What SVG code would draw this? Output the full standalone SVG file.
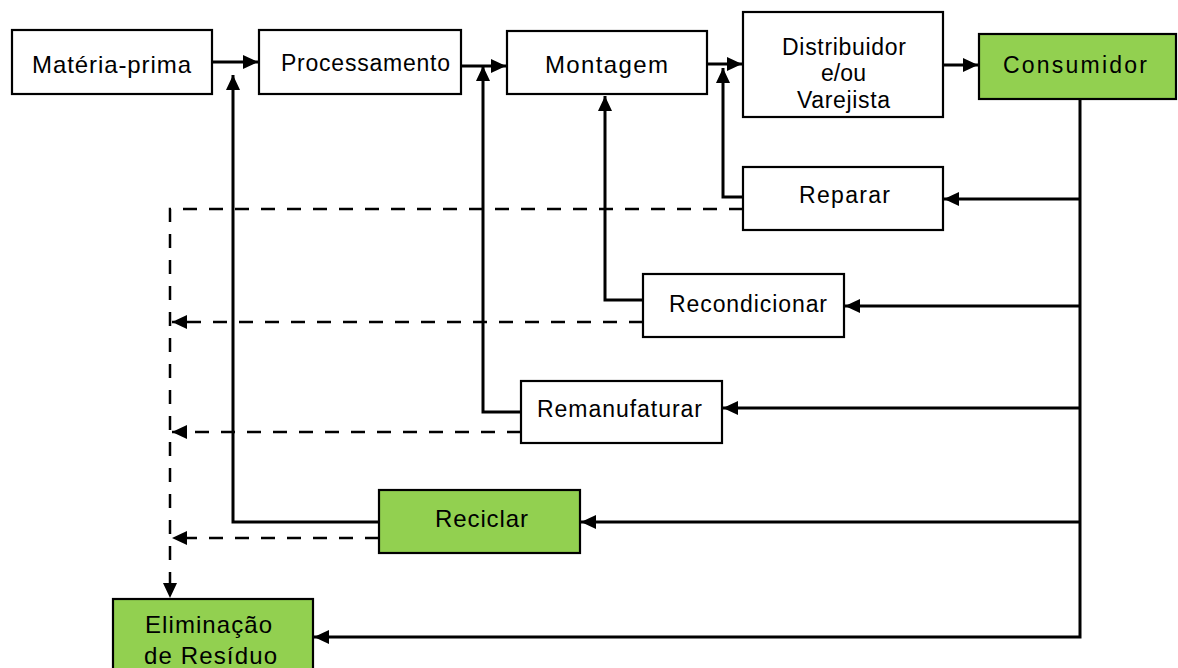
<svg xmlns="http://www.w3.org/2000/svg" width="1178" height="668" viewBox="0 0 1178 668">
  <style>
    .box { fill: #ffffff; stroke: #000000; stroke-width: 2.2; }
    .green { fill: #92d050; stroke: #000000; stroke-width: 2.2; }
    .lbl { font-family: "Liberation Sans", Arial, sans-serif; font-size: 23px; fill: #000000; text-anchor: middle; }
    .big { font-size: 24px; }
    .flow { fill: none; stroke: #000000; stroke-width: 3; stroke-linejoin: miter; }
    .waste { fill: none; stroke: #000000; stroke-width: 2.5; stroke-dasharray: 14 12; }
  </style>
  <defs>
    <marker id="arrow" markerUnits="userSpaceOnUse" markerWidth="16" markerHeight="14" refX="15" refY="7" orient="auto">
      <path d="M0,0 L15,7 L0,14 Z" fill="#000000"/>
    </marker>
  </defs>

  <rect width="1178" height="668" fill="#ffffff"/>

  <!-- connectors -->
  <g id="connectors">
    <!-- forward chain -->
    <line class="flow" x1="212" y1="62" x2="258" y2="62" marker-end="url(#arrow)"/>
    <line class="flow" x1="461" y1="66" x2="506" y2="66" marker-end="url(#arrow)"/>
    <line class="flow" x1="707" y1="64" x2="742" y2="64" marker-end="url(#arrow)"/>
    <line class="flow" x1="943" y1="65" x2="978" y2="65" marker-end="url(#arrow)"/>

    <!-- return trunk from the consumer -->
    <polyline class="flow" points="1080,99 1080,637 314,637" marker-end="url(#arrow)"/>
    <line class="flow" x1="1080" y1="199" x2="944" y2="199" marker-end="url(#arrow)"/>
    <line class="flow" x1="1080" y1="306" x2="845" y2="306" marker-end="url(#arrow)"/>
    <line class="flow" x1="1080" y1="408" x2="723" y2="408" marker-end="url(#arrow)"/>
    <line class="flow" x1="1080" y1="522" x2="581" y2="522" marker-end="url(#arrow)"/>

    <!-- recovered flows back into the chain -->
    <polyline class="flow" points="743,197 723,197 723,68" marker-end="url(#arrow)"/>
    <polyline class="flow" points="643,300 605,300 605,96" marker-end="url(#arrow)"/>
    <polyline class="flow" points="521,412 483,412 483,66" marker-end="url(#arrow)"/>
    <polyline class="flow" points="379,522 233,522 233,75" marker-end="url(#arrow)"/>

    <!-- residue flows -->
    <polyline class="waste" points="743,209 170,209 170,598" marker-end="url(#arrow)"/>
    <line class="waste" x1="643" y1="322" x2="172" y2="322" marker-end="url(#arrow)"/>
    <line class="waste" x1="521" y1="432" x2="172" y2="432" marker-end="url(#arrow)"/>
    <line class="waste" x1="379" y1="538" x2="172" y2="538" marker-end="url(#arrow)"/>
  </g>

  <!-- nodes -->
  <g id="materia-prima">
    <rect class="box" x="12" y="30" width="200" height="64"/>
    <text class="lbl big" x="111.5" y="73" textLength="159" lengthAdjust="spacing">Matéria-prima</text>
  </g>
  <g id="processamento">
    <rect class="box" x="259" y="30" width="202" height="64"/>
    <text class="lbl" x="365.5" y="71" font-size="22" textLength="169" lengthAdjust="spacing">Processamento</text>
  </g>
  <g id="montagem">
    <rect class="box" x="507" y="31" width="200" height="63"/>
    <text class="lbl big" x="606.5" y="73" textLength="123" lengthAdjust="spacing">Montagem</text>
  </g>
  <g id="distribuidor">
    <rect class="box" x="743" y="12" width="200" height="105"/>
    <text class="lbl" x="844" y="55" font-size="21" textLength="124" lengthAdjust="spacing">Distribuidor</text>
    <text class="lbl" x="843.5" y="81" font-size="21" textLength="45" lengthAdjust="spacing">e/ou</text>
    <text class="lbl" x="843.5" y="108" font-size="21" textLength="93" lengthAdjust="spacing">Varejista</text>
  </g>
  <g id="consumidor">
    <rect class="green" x="979" y="34" width="197" height="65"/>
    <text class="lbl" x="1075" y="73" font-size="25" textLength="144" lengthAdjust="spacing">Consumidor</text>
  </g>
  <g id="reparar">
    <rect class="box" x="743" y="167" width="200" height="63"/>
    <text class="lbl" x="844.5" y="203" textLength="91" lengthAdjust="spacing">Reparar</text>
  </g>
  <g id="recondicionar">
    <rect class="box" x="643" y="274" width="201" height="63"/>
    <text class="lbl" x="748" y="312" textLength="158" lengthAdjust="spacing">Recondicionar</text>
  </g>
  <g id="remanufaturar">
    <rect class="box" x="521" y="381" width="201" height="62"/>
    <text class="lbl" x="619.5" y="417" textLength="165" lengthAdjust="spacing">Remanufaturar</text>
  </g>
  <g id="reciclar">
    <rect class="green" x="379" y="490" width="201" height="63"/>
    <text class="lbl big" x="481.5" y="527" textLength="93" lengthAdjust="spacing">Reciclar</text>
  </g>
  <g id="eliminacao">
    <rect class="green" x="113" y="599" width="200" height="80"/>
    <text class="lbl big" x="208.5" y="633" textLength="127" lengthAdjust="spacing">Eliminação</text>
    <text class="lbl big" x="210.5" y="664" textLength="133" lengthAdjust="spacing">de Resíduo</text>
  </g>
</svg>
